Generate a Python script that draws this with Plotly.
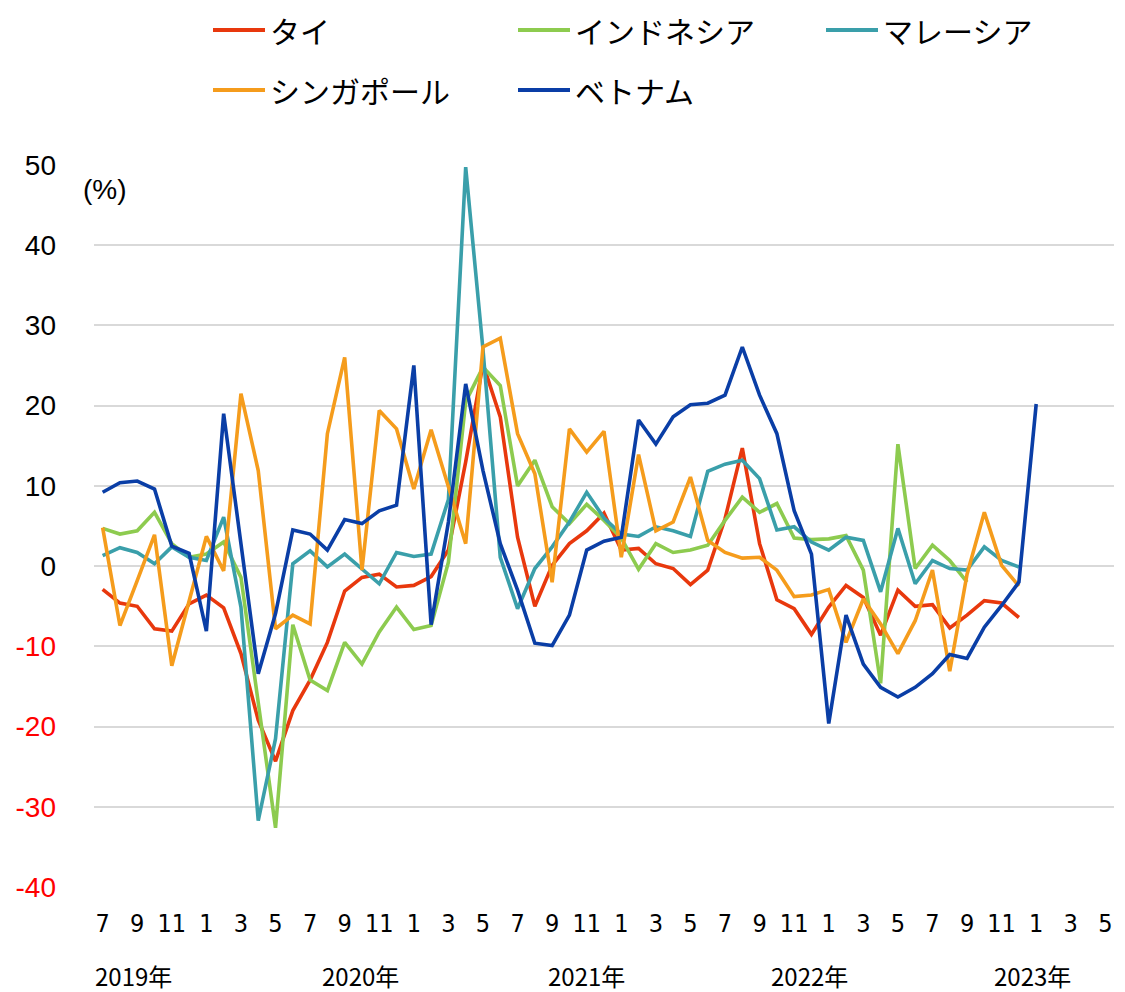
import plotly.graph_objects as go

# ---- data -------------------------------------------------------------
months = [f"{y}-{m:02d}" for y in range(2019, 2025) for m in range(1, 13)]
months = months[months.index("2019-07"):months.index("2024-05") + 1]

thai = [-2.9, -4.6, -5.0, -7.8, -8.1, -4.7, -3.6, -5.2, -10.9, -19.2, -24.3, -18.0,
        -14.2, -9.5, -3.1, -1.4, -1.0, -2.6, -2.4, -1.3, 2.0, 13.0, 25.2, 18.6,
        3.6, -5.0, 0.1, 2.8, 4.4, 6.6, 2.0, 2.2, 0.3, -0.3, -2.3, -0.5,
        5.9, 14.7, 2.8, -4.2, -5.3, -8.5, -5.1, -2.4, -3.9, -8.6, -3.0, -5.0,
        -4.8, -7.7, -6.1, -4.3, -4.6, -6.4]
indonesia = [4.7, 4.0, 4.4, 6.7, 2.8, 1.1, 1.5, 3.0, -1.4, -16.7, -32.6, -7.3,
             -14.2, -15.5, -9.5, -12.2, -8.2, -5.1, -7.9, -7.4, 0.5, 20.5, 24.8, 22.5,
             10.0, 13.2, 7.4, 5.3, 7.7, 5.7, 3.5, -0.4, 2.8, 1.7, 2.0, 2.6,
             5.7, 8.6, 6.7, 7.8, 3.5, 3.3, 3.4, 3.8, -0.5, -14.6, 15.2, -0.3,
             2.6, 0.7, -2.0]
malaysia = [1.3, 2.3, 1.7, 0.3, 2.4, 1.1, 0.7, 6.1, -5.1, -31.7, -21.5, 0.3,
            1.9, -0.1, 1.5, -0.3, -2.2, 1.7, 1.2, 1.5, 8.3, 49.7, 27.0, 1.1,
            -5.3, -0.3, 2.4, 5.5, 9.2, 6.0, 4.0, 3.7, 4.9, 4.4, 3.7, 11.8,
            12.7, 13.2, 10.9, 4.5, 4.9, 3.0, 2.0, 3.6, 3.2, -3.2, 4.7, -2.2,
            0.7, -0.3, -0.5, 2.4, 0.7, -0.1]
singapore = [4.8, -7.4, -1.8, 3.9, -12.4, -4.3, 3.7, -0.6, 21.5, 11.9, -7.8, -6.1,
             -7.2, 16.5, 26.0, -0.5, 19.4, 17.1, 9.6, 17.0, 9.8, 2.8, 27.3, 28.4,
             16.5, 11.5, -2.0, 17.1, 14.2, 16.8, 1.1, 13.9, 4.4, 5.5, 11.1, 3.2,
             1.7, 1.0, 1.1, -0.5, -3.8, -3.6, -2.9, -9.5, -4.1, -7.2, -10.9, -6.8,
             -0.5, -13.1, -1.0, 6.7, 0.1, -2.5]
vietnam = [9.2, 10.4, 10.6, 9.6, 2.5, 1.6, -8.1, 19.0, 2.8, -13.4, -5.9, 4.5,
           4.0, 2.0, 5.8, 5.3, 6.9, 7.6, 25.0, -7.3, 5.5, 22.7, 11.9, 2.8,
           -3.0, -9.6, -9.9, -6.1, 2.0, 3.1, 3.6, 18.2, 15.2, 18.6, 20.1, 20.3,
           21.3, 27.3, 21.3, 16.5, 6.9, 1.5, -19.6, -6.1, -12.2, -15.1, -16.3, -15.1,
           -13.4, -11.0, -11.5, -7.6, -4.9, -2.0, 20.2]

series_names = ["タイ", "インドネシア", "マレーシア", "シンガポール", "ベトナム"]
series_values = [thai, indonesia, malaysia, singapore, vietnam]
series_colors = ["#E8380D", "#8DCB4F", "#3A9FAA", "#F59C1C", "#0A3EA6"]

x_tick_months = months[::2]
x_tick_labels = ["7", "9", "11", "1", "3", "5"] * 5
y_ticks = [-40, -30, -20, -10, 0, 10, 20, 30, 40, 50]
year_labels = ["2019年", "2020年", "2021年", "2022年", "2023年"]
year_label_pos = [1.8, 14.9, 28.0, 40.9, 53.8]

# ---- layout geometry ----------------------------------------------------
W, H = 1125, 992
L, R, T, B = 94, 11, 164, 104


def px(x):
    return (x - L) / (W - L - R)


def py(y):
    return (H - B - y) / (H - T - B)


NUM_FONT = "Liberation Sans, Arial, sans-serif"
NARROW_FONT = "Liberation Sans Narrow, DejaVu Sans Condensed, Liberation Sans, sans-serif"
JP_FONT = "Noto Sans CJK JP, sans-serif"

fig = go.Figure()
for name, vals, col in zip(series_names, series_values, series_colors):
    fig.add_trace(go.Scatter(
        x=months[:len(vals)], y=vals, name=name, mode="lines",
        line=dict(color=col, width=3.6), showlegend=False,
    ))

y_text = [f'<span style="color:#FF0000">{v}</span>' if v < 0 else str(v) for v in y_ticks]

fig.update_layout(
    width=W, height=H,
    margin=dict(l=L, r=R, t=T, b=B, pad=0),
    plot_bgcolor="white", paper_bgcolor="white",
    font=dict(family=NUM_FONT, size=22, color="#000000"),
    xaxis=dict(
        type="category", categoryorder="array", categoryarray=months,
        range=[-0.5, len(months) - 0.5],
        tickmode="array", tickvals=x_tick_months, ticktext=x_tick_labels,
        showgrid=False, zeroline=False, showline=False, ticks="",
        ticklabelstandoff=18, tickfont=dict(size=25, family=NARROW_FONT),
        tickangle=0,
    ),
    yaxis=dict(
        range=[-40.1, 50.1], tickmode="array", tickvals=y_ticks, ticktext=y_text,
        showgrid=True, gridcolor="#D9D9D9", gridwidth=1.6,
        zeroline=False, showline=False, ticks="",
        ticklabelstandoff=37, tickfont=dict(size=28, family=NUM_FONT),
    ),
)

# (%) label
fig.add_annotation(x=px(81), y=py(190), xref="paper", yref="paper", text="(%)",
                   showarrow=False, xanchor="left", yanchor="middle",
                   font=dict(size=28, family=NUM_FONT))

# year labels
for lab, pos in zip(year_labels, year_label_pos):
    fig.add_annotation(x=pos, y=py(975), xref="x", yref="paper", text=lab,
                       showarrow=False, xanchor="center", yanchor="middle",
                       font=dict(size=24, family=JP_FONT))

# legend (drawn manually: 2 rows x 3 columns)
leg_cols = [213, 518, 826]
leg_rows = [30, 90]
for k, (name, col) in enumerate(zip(series_names, series_colors)):
    r, c = divmod(k, 3)
    x0 = leg_cols[c]
    yy = leg_rows[r]
    fig.add_shape(type="line", xref="paper", yref="paper",
                  x0=px(x0), x1=px(x0 + 52), y0=py(yy), y1=py(yy),
                  line=dict(color=col, width=4))
    fig.add_annotation(x=px(x0 + 55), y=py(yy), xref="paper", yref="paper",
                       text=name, showarrow=False, xanchor="left", yanchor="middle",
                       font=dict(size=30, family=JP_FONT))

fig.write_html("out.html", config={"displayModeBar": False},
               post_script="document.body.style.margin='0px';")
